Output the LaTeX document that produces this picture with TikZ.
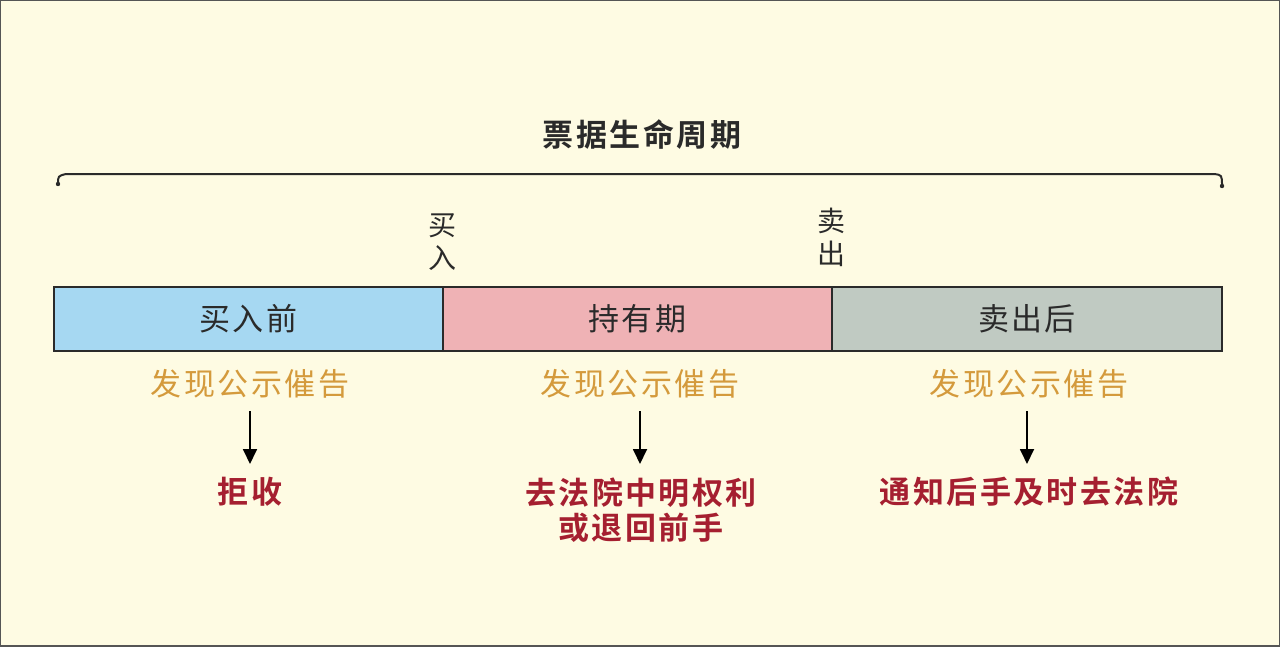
\documentclass[tikz,border=0pt]{standalone}
\usepackage{fontspec}
\usetikzlibrary{arrows.meta}
\newfontfamily\cjk[LetterSpace=8]{Noto Sans CJK SC}
\newfontfamily\cjkb[LetterSpace=8]{Noto Sans CJK SC Bold}
\definecolor{bgcream}{HTML}{FEFBE3}
\definecolor{boxblue}{HTML}{A6D8F2}
\definecolor{boxpink}{HTML}{EFB2B5}
\definecolor{boxgray}{HTML}{C0CAC2}
\definecolor{txtorange}{HTML}{D49A3C}
\definecolor{txtred}{HTML}{A51F30}
\definecolor{inkdark}{HTML}{2A2A2A}
\tikzset{
  phase/.style={draw=inkdark, line width=1.5pt, minimum height=64pt, inner sep=0pt, text=inkdark,
    font=\cjk\fontsize{31}{32}\selectfont},
  find/.style={text=txtorange, inner sep=0pt, font=\cjk\fontsize{31}{32}\selectfont},
  act/.style={text=txtred, inner sep=0pt, align=center, font=\cjkb\fontsize{31}{35}\selectfont},
  vlabel/.style={text=inkdark, inner sep=0pt, align=center, font=\cjk\fontsize{28}{33}\selectfont},
  flow/.style={draw=black, line width=1.8pt, -{Triangle[width=14pt,length=15pt]}},
}
\begin{document}
\begin{tikzpicture}[x=1pt,y=-1pt]
\useasboundingbox (0,0) rectangle (1280,646);
\fill[bgcream] (0,0) rectangle (1280,646);
\draw[inkdark!80, line width=2.5pt] (0,0) rectangle (1280,646);
% title
\node[text=inkdark, inner sep=0pt, font=\cjkb\fontsize{31}{32}\selectfont] (title) at (642,135) {票据生命周期};
% brace line
\coordinate (bl) at (58,184);
\coordinate (br) at (1222,186);
\draw[inkdark, line width=2pt] (bl) .. controls (58,176) .. (66,174) -- (1214,174) .. controls (1222,175) .. (br);
\fill[inkdark] (bl) circle (2.2pt);
\fill[inkdark] (br) circle (2.2pt);
% boxes
\node[phase, fill=boxblue, minimum width=389pt] (b1) at (248.5,319) {买入前};
\node[phase, fill=boxpink, minimum width=389pt] (b2) at (637.5,319) {持有期};
\node[phase, fill=boxgray, minimum width=390pt] (b3) at (1027,319) {卖出后};
% vertical markers
\node[vlabel] (buy) at (442,242) {买\\入};
\node[vlabel] (sell) at (831,237) {卖\\出};
% findings
\node[find] (f1) at (250,384) {发现公示催告};
\node[find] (f2) at (640,384) {发现公示催告};
\node[find] (f3) at (1029,384) {发现公示催告};
% actions
\node[act] (a1) at (250,492) {拒收};
\node[act] (a2) at (641,510) {去法院中明权利\\或退回前手};
\node[act] (a3) at (1029,492) {通知后手及时去法院};
% arrows
\coordinate (s1) at (250,411); \coordinate (e1) at (250,464);
\coordinate (s2) at (640,411); \coordinate (e2) at (640,464);
\coordinate (s3) at (1027,411); \coordinate (e3) at (1027,464);
\draw[flow] (s1) -- (e1);
\draw[flow] (s2) -- (e2);
\draw[flow] (s3) -- (e3);
\end{tikzpicture}
\end{document}
